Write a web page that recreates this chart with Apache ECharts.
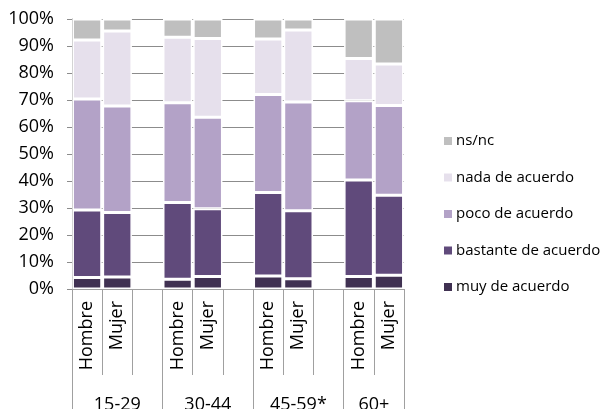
<!DOCTYPE html>
<html><head><meta charset="utf-8">
<script src="https://cdn.jsdelivr.net/npm/echarts@6/dist/echarts.min.js"></script>
<style>html,body{margin:0;padding:0;background:#fff}#c{width:601px;height:409px}</style>
</head><body><div id="c"></div>
<script>
const groups = ['15-29', '30-44', '45-59*', '60+'];
const sexes = ['Hombre', 'Mujer'];
const yTicks = [0, 10, 20, 30, 40, 50, 60, 70, 80, 90, 100];
// bar order: 15-29 H, 15-29 M, 30-44 H, 30-44 M, 45-59 H, 45-59 M, 60+ H, 60+ M
const muy      = [4.3, 4.4, 3.6, 4.6, 4.8, 3.8, 4.6, 5.1];
const bastante = [25.0, 23.9, 28.4, 25.1, 30.9, 25.2, 35.8, 29.6];
const poco     = [41.1, 39.5, 37.0, 33.9, 36.3, 40.3, 29.3, 33.3];
const nada     = [21.8, 27.8, 24.2, 29.2, 20.6, 26.6, 15.7, 15.3];
const nsnc     = [7.8, 4.4, 6.8, 7.2, 7.4, 4.1, 14.6, 16.7];
const seriesNames = ['muy de acuerdo', 'bastante de acuerdo', 'poco de acuerdo', 'nada de acuerdo', 'ns/nc'];
const seriesValues = [muy, bastante, poco, nada, nsnc];
const colors = ['#403152', '#604A7B', '#B3A2C7', '#E6E0EC', '#BFBFBF'];

// build slots: Hombre, Mujer, spacer per group (no spacer after last)
const slots = [];
const groupStart = [], groupEnd = [];
let b = 0;
groups.forEach((g, gi) => {
  groupStart.push(slots.length);
  sexes.forEach(s => { slots.push({ key: g + '|' + s, label: s, bar: b++ }); });
  if (gi < groups.length - 1) slots.push({ key: g + '|gap', label: '', bar: null });
  groupEnd.push(slots.length);
});
const nSlots = slots.length;
const groupCenters = groups.map((g, i) => (groupStart[i] + groupEnd[i]) / 2);
const groupBounds = groupStart.concat([nSlots]);

const FONT = 'Open Sans';
const chart = echarts.init(document.getElementById('c'), null, { renderer: 'canvas' });
chart.setOption({
  animation: false,
  backgroundColor: '#fff',
  color: colors,
  textStyle: { fontFamily: FONT },
  grid: { left: 72, right: 197, top: 19, bottom: 120, containLabel: false, outerBoundsMode: 'none' },
  legend: {
    orient: 'vertical', left: 437, top: 126,
    itemWidth: 10, itemHeight: 10, itemGap: 16.5, icon: 'rect',
    data: seriesNames.slice().reverse(),
    textStyle: { fontFamily: FONT, fontSize: 15, color: '#000', lineHeight: 20, padding: [0, 0, 0, -2] },
    selectedMode: false
  },
  xAxis: [{
    type: 'category',
    data: slots.map(s => s.key),
    boundaryGap: true,
    axisLine: { show: true, lineStyle: { color: '#a0a0a0', width: 1 } },
    axisTick: { show: true, interval: 0, length: 86, lineStyle: { color: '#a0a0a0' } },
    axisLabel: {
      interval: 0, rotate: 90, margin: 12, fontFamily: FONT, fontSize: 18, color: '#000',
      formatter: v => v.split('|')[1] === 'gap' ? '' : v.split('|')[1]
    },
    splitLine: { show: false }
  }, {
    type: 'value', min: 0, max: nSlots, position: 'bottom', offset: 0,
    axisLine: { show: false },
    axisTick: { show: true, length: 125, customValues: groupBounds, lineStyle: { color: '#a0a0a0' } },
    axisLabel: {
      show: true, customValues: groupCenters, margin: 107, fontFamily: FONT, fontSize: 18, color: '#000',
      formatter: v => { const i = groupCenters.indexOf(v); return i >= 0 ? groups[i] : ''; }
    },
    splitLine: { show: false }
  }],
  yAxis: {
    type: 'value', min: 0, max: 100, interval: 10,
    axisLine: { show: true, lineStyle: { color: '#a0a0a0' } },
    axisTick: { show: true, length: 5, lineStyle: { color: '#8c8c8c' } },
    axisLabel: { margin: 18, fontFamily: FONT, fontSize: 18, color: '#000', formatter: v => yTicks.includes(v) ? v + '%' : '' },
    splitLine: { show: true, lineStyle: { color: '#8c8c8c', width: 1 } }
  },
  series: seriesNames.map((name, si) => ({
    name, type: 'bar', stack: 'total', xAxisIndex: 0,
    barCategoryGap: '3%',
    itemStyle: { color: colors[si], borderColor: '#fff', borderWidth: 1.5 },
    data: slots.map(s => s.bar === null ? '-' : seriesValues[si][s.bar])
  }))
});
</script></body></html>
